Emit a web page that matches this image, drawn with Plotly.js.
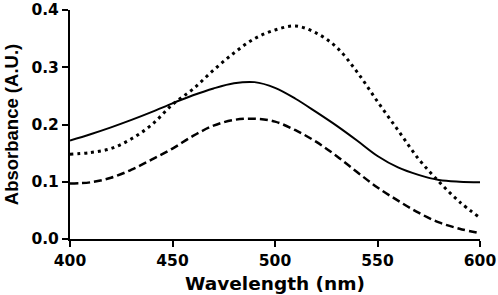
<!DOCTYPE html>
<html>
<head>
<meta charset="utf-8">
<script src="https://cdn.plot.ly/plotly-3.0.1.min.js"></script>
<style>html,body{margin:0;padding:0;background:#fff;}#chart{width:498px;height:295px;}</style>
</head>
<body>
<div id="chart"></div>
<script>
var wavelength = [400,410,420,430,440,450,460,470,480,490,500,510,520,530,540,550,560,570,580,590,600];
var solidSeries = [0.172,0.183,0.195,0.208,0.222,0.237,0.251,0.263,0.272,0.274,0.264,0.245,0.222,0.198,0.172,0.145,0.125,0.112,0.103,0.100,0.099];
var dottedSeries = [0.148,0.151,0.158,0.175,0.200,0.235,0.262,0.295,0.325,0.350,0.365,0.372,0.360,0.335,0.292,0.240,0.190,0.140,0.100,0.065,0.037];
var dashedSeries = [0.097,0.099,0.107,0.121,0.139,0.158,0.180,0.198,0.208,0.210,0.205,0.190,0.170,0.145,0.117,0.090,0.067,0.046,0.029,0.018,0.010];
var xTicks = [400,450,500,550,600];
var yTicks = [0.0,0.1,0.2,0.3,0.4];

var traces = [
  {x: wavelength, y: solidSeries, mode: 'lines', line: {color: '#000', width: 2, shape: 'spline', dash: 'solid'}},
  {x: wavelength, y: dottedSeries, mode: 'lines', line: {color: '#000', width: 3, shape: 'spline', dash: '3px,4px'}},
  {x: wavelength, y: dashedSeries, mode: 'lines', line: {color: '#000', width: 2.5, shape: 'spline', dash: '8px,4px'}}
];
var wideFont = '"DejaVu Sans", sans-serif';
var narrowFont = '"Liberation Sans", Arial, sans-serif';
var layout = {
  width: 498, height: 295,
  margin: {l: 70, r: 18, t: 10, b: 56},
  showlegend: false,
  paper_bgcolor: '#fff', plot_bgcolor: '#fff',
  font: {family: narrowFont, color: '#000'},
  xaxis: {
    range: [400, 600], tickvals: xTicks, ticktext: xTicks.map(String),
    showgrid: false, zeroline: false, showline: true, linecolor: '#000', linewidth: 2,
    ticks: 'outside', ticklen: 6, tickwidth: 2, tickcolor: '#000',
    tickfont: {family: wideFont, size: 15.5, color: '#000', weight: 'bold'},
    title: {text: '<b>Wavelength (nm)</b>', font: {family: wideFont, size: 18.5, color: '#000'}, standoff: 8}
  },
  yaxis: {
    range: [0, 0.4], tickvals: yTicks, ticktext: yTicks.map(function(v){return v.toFixed(1);}),
    showgrid: false, zeroline: false, showline: true, linecolor: '#000', linewidth: 2,
    ticks: 'outside', ticklen: 6, tickwidth: 2, tickcolor: '#000',
    tickfont: {family: wideFont, size: 15.5, color: '#000', weight: 'bold'},
    title: {text: '<b>Absorbance (A.U.)</b>', font: {family: narrowFont, size: 18.5, color: '#000'}, standoff: 8}
  }
};
Plotly.newPlot('chart', traces, layout, {staticPlot: true, displayModeBar: false});
</script>
</body>
</html>
